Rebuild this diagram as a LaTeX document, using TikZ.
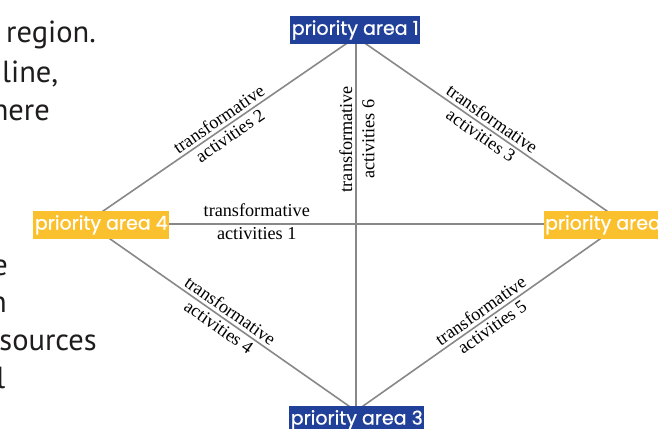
\documentclass[tikz,border=0pt]{standalone}
\usepackage{fontspec}
\setmainfont{Liberation Serif}
\newfontfamily\pfont[FakeBold=0.8]{Poppins}
\newfontfamily\bfont{PT Sans}
\usetikzlibrary{backgrounds}
\definecolor{navy}{RGB}{33,64,154}
\definecolor{gold}{RGB}{251,192,45}
\definecolor{lgray}{RGB}{136,136,136}
\definecolor{ink}{RGB}{30,28,28}
\tikzset{
  area/.style={font=\pfont\fontsize{19}{19}\selectfont, text=white, minimum height=27.7pt, inner xsep=1.5pt, inner ysep=0pt},
  navyarea/.style={area, fill=navy},
  goldarea/.style={area, fill=gold},
  conn/.style={draw=lgray, line width=1.6pt},
  lab/.style={font=\fontsize{18.2}{18}\selectfont, inner sep=1.5pt, sloped},
  bodytext/.style={font=\bfont\fontsize{30.5}{30}\selectfont, text=ink, inner sep=0pt}
}
\begin{document}
\begin{tikzpicture}[x=1pt,y=-1pt]
\useasboundingbox (0,0) rectangle (658,428);
\clip (0,0) rectangle (658,428);
% left text fragments
\node[bodytext, anchor=base west] (w1) at (6,43) {region.};
\node[bodytext, anchor=base west] (w2) at (2,82) {line,};
\node[bodytext, anchor=base east] (w3) at (50,120) {here};
\node[bodytext, anchor=base east] (w4) at (8,275) {e};
\node[bodytext, anchor=base east] (w5) at (7,312) {n};
\node[bodytext, anchor=base east] (w6) at (97,350) {sources};
\node[bodytext, anchor=base east] (w7) at (5.5,388) {l};
% priority areas
\node[navyarea] (p1) at (355.3,30) {priority area 1};
\node[goldarea] (p2) at (611,224.8) {priority area 2};
\node[navyarea] (p3) at (356.8,419.8) {priority area 3};
\node[goldarea] (p4) at (101.3,224.8) {priority area 4};
% connector end points inside the nodes
\coordinate (T) at (356,37);
\coordinate (B) at (356,411);
\coordinate (L1) at (93,218);
\coordinate (L2) at (93,227);
\coordinate (R1) at (617,218);
\coordinate (R2) at (617,227);
\coordinate (H1) at ([yshift=1pt]p4.center);
\coordinate (H2) at ([yshift=1pt]p2.center);
\begin{scope}[on background layer]
\draw[conn] (H1) -- node[lab, pos=0.305, above=5pt]{transformative} node[lab, pos=0.305, below=1.5pt]{activities 1} (H2);
\draw[conn] (L1) -- node[lab, pos=0.5, above=1.5pt]{transformative} node[lab, pos=0.5, below=1.5pt]{activities 2} (T);
\draw[conn] (T) -- node[lab, pos=0.5, above=1.5pt]{transformative} node[lab, pos=0.5, below=1.5pt]{activities 3} (R1);
\draw[conn] (L2) -- node[lab, pos=0.5, above=1.5pt]{transformative} node[lab, pos=0.5, below=1.5pt]{activities 4} (B);
\draw[conn] (B) -- node[lab, pos=0.5, above=1.5pt]{transformative} node[lab, pos=0.5, below=1.5pt]{activities 5} (R2);
\draw[conn] (B) -- node[lab, pos=0.727, above=1.5pt]{transformative} node[lab, pos=0.727, below=4pt]{activities 6} (T);
\end{scope}
\end{tikzpicture}
\end{document}
